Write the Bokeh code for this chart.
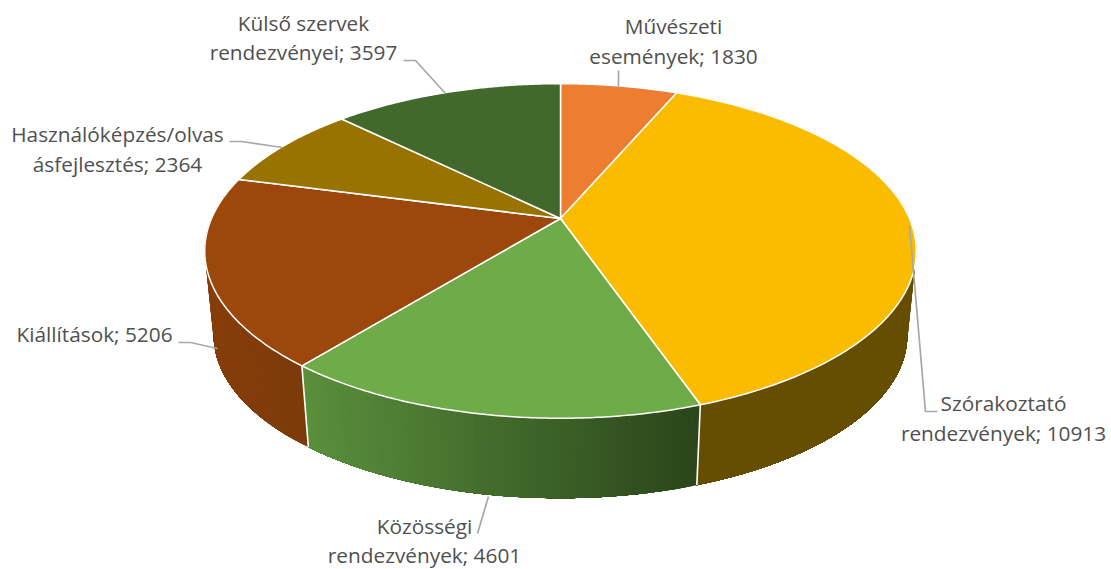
import numpy as np
from bokeh.plotting import figure
from bokeh.models import Range1d
from bokeh.core.properties import value
from bokeh.embed import file_html
from bokeh.resources import INLINE

# ---- data ---------------------------------------------------------------
categories = ["Művészeti események", "Szórakoztató rendezvények", "Közösségi rendezvények",
              "Kiállítások", "Használóképzés/olvasásfejlesztés", "Külső szervek rendezvényei"]
values = [1830, 10913, 4601, 5206, 2364, 3597]

label_lines = [["Művészeti", "események; 1830"],
               ["Szórakoztató", "rendezvények; 10913"],
               ["Közösségi", "rendezvények; 4601"],
               ["Kiállítások; 5206"],
               ["Használóképzés/olvas", "ásfejlesztés; 2364"],
               ["Külső szervek", "rendezvényei; 3597"]]

# ---- styling ------------------------------------------------------------
top_colors = ["#ED7D31", "#FBBC00", "#6FAB48", "#9C470C", "#997300", "#43682B"]
side_start = ["#8C4A1D", "#664E00", "#5A8F3C", "#863E0A", "#5C4500", "#28401A"]
side_end   = ["#8C4A1D", "#664E00", "#2A451A", "#7C3A0A", "#5C4500", "#28401A"]
text_color = "#505050"
leader_color = "#A8A8A8"

label_pos = [[(673, 25), (673, 55)],
             [(1003, 402), (1003, 432)],
             [(424, 525), (424, 554.5)],
             [(94, 333)],
             [(117, 133), (117, 163)],
             [(303, 22), (303, 51)]]
leaders = [[(618, 70), (618, 87)],
           [(909, 225), (925, 411), (937, 411)],
           [(488, 496), (477, 533)],
           [(178, 342), (190, 342), (217, 348)],
           [(229, 141), (241, 141), (282, 147)],
           [(403, 60), (415, 60), (445, 93)]]

# ---- projection of the pie disc -----------------------------------------
CX, CY, RX, RY, K = 560.0, 218.0, 349.0, 161.0, 0.194
SIDE_SCALE, SIDE_CY = 0.975, 303.0


def rim(theta):
    w = 1 + K * np.cos(theta)
    return CX + RX * np.sin(theta) / w, CY - RY * np.cos(theta) / w


def lower(theta):
    x, y = rim(theta)
    return CX + SIDE_SCALE * (x - CX), SIDE_CY + SIDE_SCALE * (y - CY)


def mix(c1, c2, t):
    a = [int(c1[i:i + 2], 16) for i in (1, 3, 5)]
    b = [int(c2[i:i + 2], 16) for i in (1, 3, 5)]
    return "#%02x%02x%02x" % tuple(round(u + (v - u) * t) for u, v in zip(a, b))


fractions = np.cumsum([0] + values) / sum(values)
edges = fractions * 2 * np.pi

p = figure(width=1111, height=569, x_range=Range1d(0, 1111), y_range=Range1d(569, 0),
           x_axis_type=None, y_axis_type=None, toolbar_location=None,
           output_backend="svg", min_border=0, outline_line_color=None)
p.grid.visible = False

# side wall: each strip runs on to the end of its sector and the next one
# paints over it, so the shading has no seams
VIS_A, VIS_B = np.radians(75), np.radians(285)
xs, ys, cs = [], [], []
for i in range(len(values)):
    a, b = max(edges[i], VIS_A), min(edges[i + 1], VIS_B)
    if b <= a:
        continue
    shaded = side_start[i] != side_end[i]
    n = max(2, int((b - a) / np.radians(0.8)))
    t = np.linspace(a, b, n + 1)
    whole = np.linspace(a, b, 200)
    x_l, x_r = rim(whole)[0].min(), rim(whole)[0].max()
    for j in range(n):
        tt = np.linspace(t[j], b, max(40, 2 * (n - j)))
        x1, y1 = rim(tt)
        x2, y2 = lower(tt)
        xs.append(list(x1) + list(x2[::-1]))
        ys.append(list(y1) + list(y2[::-1]))
        xm = rim((t[j] + t[j + 1]) / 2)[0]
        cs.append(mix(side_start[i], side_end[i], (xm - x_l) / (x_r - x_l)) if shaded else side_start[i])
p.patches(xs, ys, fill_color=cs, line_color=None)

# separators on the wall
for e in edges[1:-1]:
    if VIS_A < e < VIS_B:
        x1, y1 = rim(e)
        x2, y2 = lower(e)
        p.line([x1, x2], [y1, y2], line_color="white", line_width=1.6)

# top of the pie
txs, tys = [], []
for i in range(len(values)):
    t = np.linspace(edges[i], edges[i + 1], 120)
    x, y = rim(t)
    txs.append([CX] + list(x))
    tys.append([CY] + list(y))
p.patches(txs, tys, fill_color=top_colors, line_color="white", line_width=1.5, line_join="round")

# leader lines
for pts in leaders:
    p.line([q[0] for q in pts], [q[1] for q in pts], line_color=leader_color, line_width=1.7)

# labels
tx, ty, tt = [], [], []
for lines, pos in zip(label_lines, label_pos):
    for s, (x, y) in zip(lines, pos):
        tx.append(x)
        ty.append(y)
        tt.append(s)
p.text(tx, ty, text=tt, text_align="center", text_baseline="middle",
       text_font=value("Open Sans"), text_font_size="20.8px", text_color=text_color)

open("out.html", "w").write(file_html(p, INLINE))
